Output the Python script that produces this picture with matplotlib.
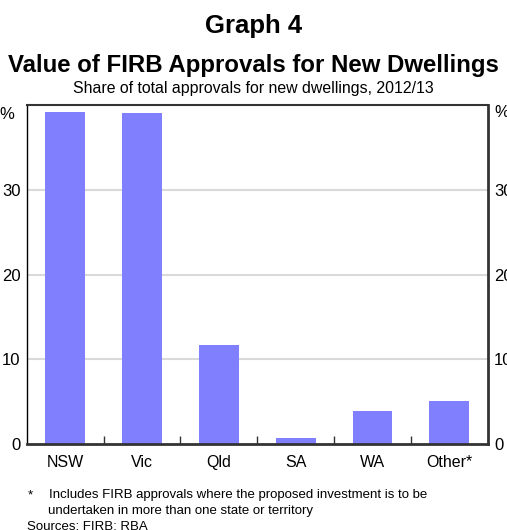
import matplotlib.pyplot as plt
import numpy as np

plt.rcParams['font.family'] = ['Liberation Sans', 'DejaVu Sans']

# data
states = ['NSW', 'Vic', 'Qld', 'SA', 'WA', 'Other*']
share = [39.2, 39.0, 11.7, 0.8, 3.9, 5.1]
y_ticks = [0, 10, 20, 30]

fig = plt.figure(figsize=(5.07, 5.30), dpi=100)
ax = fig.add_axes([0.0527, 0.1617, 0.9093, 0.6402])

pos = np.arange(len(states))
ax.bar(pos, share, width=0.52, color='#8080ff', zorder=2)

ax.set_xlim(-0.5, len(states) - 0.5)
ax.set_ylim(0, 40)

# gridlines
for y in y_ticks[1:]:
    ax.axhline(y, color='#d9d9d9', lw=1.5, zorder=1)

# spines
ax.spines['left'].set_linewidth(1.0)
ax.spines['left'].set_color('black')
ax.spines['top'].set_linewidth(1.5)
ax.spines['top'].set_color('#333333')
ax.spines['bottom'].set_linewidth(2.0)
ax.spines['bottom'].set_color('#333333')
ax.spines['bottom'].set_capstyle('projecting')
ax.spines['right'].set_linewidth(2.0)
ax.spines['right'].set_color('#333333')

# x axis: labels at centres, ticks between categories pointing in
ax.set_xticks(pos)
ax.set_xticklabels(states, fontsize=11.5)
ax.tick_params(axis='x', which='major', length=0, pad=8)
ax.set_xticks(pos[:-1] + 0.5, minor=True)
ax.tick_params(axis='x', which='minor', direction='in', length=6, width=1, color='#333333')

# y axis labels both sides
ax.set_yticks(y_ticks)
ax.set_yticklabels([str(v) for v in y_ticks])
ax.tick_params(axis='y', left=False, right=False, labelleft=True, labelright=True,
               length=0, labelsize=12, pad=4.5)
ax.text(-0.028, 38.9, '%', transform=ax.get_yaxis_transform(), ha='right', va='center', fontsize=12)
ax.text(1.014, 39.1, '%', transform=ax.get_yaxis_transform(), ha='left', va='center', fontsize=12)

# titles
fig.text(0.5, 1 - 33/530, 'Graph 4', ha='center', va='baseline', fontsize=18.5, fontweight='bold')
fig.text(0.5, 1 - 72/530, 'Value of FIRB Approvals for New Dwellings', ha='center', va='baseline',
         fontsize=17.3, fontweight='bold')
fig.text(0.5, 1 - 93/530, 'Share of total approvals for new dwellings, 2012/13', ha='center',
         va='baseline', fontsize=11.4)

# footnotes
fig.text(28/507, 1 - 498/530, '*', ha='left', va='baseline', fontsize=9.5)
fig.text(49/507, 1 - 498/530, 'Includes FIRB approvals where the proposed investment is to be',
         ha='left', va='baseline', fontsize=9.5)
fig.text(48/507, 1 - 514/530, 'undertaken in more than one state or territory',
         ha='left', va='baseline', fontsize=9.5)
fig.text(27/507, 1 - 529.5/530, 'Sources: FIRB; RBA', ha='left', va='baseline', fontsize=9.5)

fig.savefig('out.png', dpi=100)
